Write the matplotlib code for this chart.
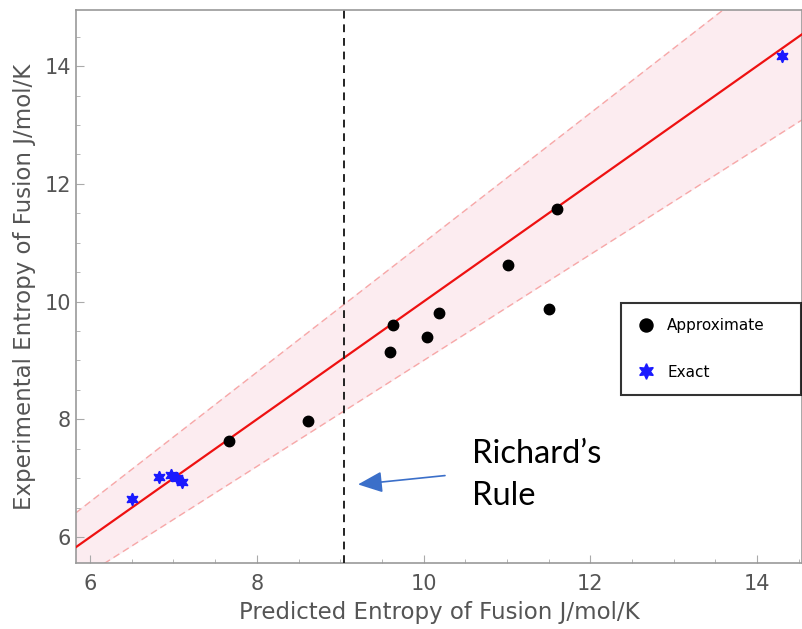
import numpy as np
import matplotlib
matplotlib.use('Agg')
import matplotlib.pyplot as plt
from matplotlib.ticker import MultipleLocator

# ---------- data ----------

approx_pred = [7.66, 8.61, 9.60, 9.63, 10.04, 10.18, 11.01, 11.51, 11.60]
approx_exp = [7.63, 7.98, 9.14, 9.60, 9.40, 9.80, 10.62, 9.88, 11.57]

exact_pred = [6.50, 6.83, 6.97, 7.04, 7.10, 14.30]
exact_exp = [6.64, 7.02, 7.05, 7.00, 6.93, 14.17]

richards_rule = 9.04
band = 0.10  # +/- 10 % around y = x

x_lim = (5.83, 14.54)
y_lim = (5.56, 14.95)
ticks = [6, 8, 10, 12, 14]

# ---------- plot ----------

fig = plt.figure(figsize=(8.03, 6.29), dpi=100)
ax = fig.add_axes([0.0946, 0.1049, 0.9042, 0.879])

xs = np.linspace(x_lim[0], x_lim[1], 200)
ax.fill_between(xs, xs * (1 - band), xs * (1 + band), color='#fcecf0', zorder=1)
ax.plot(xs, xs * (1 + band), color='#f7a8a8', lw=1.0, ls=(0, (5, 3)), zorder=2)
ax.plot(xs, xs * (1 - band), color='#f7a8a8', lw=1.0, ls=(0, (5, 3)), zorder=2)
ax.plot(xs, xs, color='#ee1111', lw=1.6, zorder=3)

ax.axvline(richards_rule, color='#222222', lw=1.4, ls=(0, (4, 3)), zorder=3)

ax.plot(approx_pred, approx_exp, 'o', color='black', ms=7.5, ls='none',
        label='Approximate', zorder=4)
ax.plot(exact_pred, exact_exp, ls='none', marker=(6, 1, 0), color='#1a1aff',
        ms=9, label='Exact', zorder=4)

ax.annotate('', xy=(9.18, 6.89), xytext=(10.29, 7.05),
            arrowprops=dict(arrowstyle='-|>,head_length=1.5,head_width=0.65',
                            color='#3b6fc9', lw=1.2))
ax.text(10.58, 7.05, "Richard\u2019s\nRule", fontsize=23.5, family='Lato',
        color='black', va='center', ha='left', linespacing=1.5)

ax.set_xlim(*x_lim)
ax.set_ylim(*y_lim)
ax.set_xticks(ticks)
ax.set_yticks(ticks)
ax.xaxis.set_minor_locator(MultipleLocator(0.5))
ax.yaxis.set_minor_locator(MultipleLocator(0.5))
ax.tick_params(which='both', direction='in', color='#aaaaaa',
               labelcolor='#555555', labelsize=15)
ax.tick_params(which='major', length=6)
ax.tick_params(which='minor', length=3)
ax.tick_params(axis='x', pad=8)
for s in ax.spines.values():
    s.set_color('#999999')
    s.set_linewidth(1.2)

ax.set_xlabel('Predicted Entropy of Fusion J/mol/K', fontsize=16.5, color='#555555', labelpad=5)
ax.set_ylabel('Experimental Entropy of Fusion J/mol/K', fontsize=16.5, color='#555555', labelpad=6)

leg = ax.legend(loc='upper left', bbox_to_anchor=(0.751, 0.304, 0.247, 0.166),
                mode='expand', frameon=True, fancybox=False, edgecolor='black',
                fontsize=11, borderpad=1.0, labelspacing=2.05, markerscale=1.25,
                handletextpad=0.8, handlelength=1.2, borderaxespad=0)
leg.get_frame().set_linewidth(1.5)

fig.savefig('out.png', dpi=100)
